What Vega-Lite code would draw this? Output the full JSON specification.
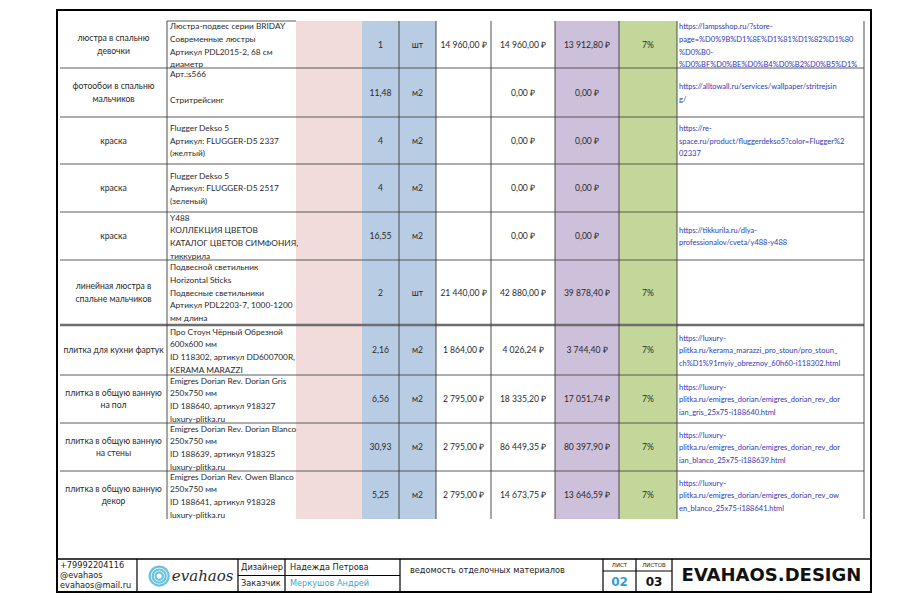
{
  "$schema": "https://vega.github.io/schema/vega-lite/v6.json",
  "width": 900,
  "height": 600,
  "padding": 0,
  "autosize": {"type": "none"},
  "background": "white",
  "config": {
    "view": {"stroke": null},
    "locale": {"number": {"decimal": ",", "thousands": "\u00a0", "grouping": [3], "currency": ["", "\u00a0₽"]}},
    "text": {"font": "Lato", "fontSize": 8.6, "lineBreak": "\n", "lineHeight": 12.7, "baseline": "middle", "align": "center", "color": "#2a2a2a"}
  },
  "datasets": {
    "items": [
      {"row": 1, "name": "люстра в спальню\nдевочки", "desc": "Люстра-подвес серии BRIDAY\nСовременные люстры\nАртикул PDL2015-2, 68 см\nдиаметр", "qty": 1, "unit": "шт", "price": 14960, "total": 14960, "disc": 13912.8, "pct": 0.07, "link": "https://lampsshop.ru/?store-\npage=%D0%9B%D1%8E%D1%81%D1%82%D1%80\n%D0%B0-\n%D0%BF%D0%BE%D0%B4%D0%B2%D0%B5%D1%"},
      {"row": 2, "name": "фотообои в спальню\nмальчиков", "desc": "Арт.:s566\n\u2800\nСтритрейсинг\n\u2800", "qty": 11.48, "unit": "м2", "price": null, "total": 0, "disc": 0, "pct": null, "link": "https://alltowall.ru/services/wallpaper/stritrejsin\ng/"},
      {"row": 3, "name": "краска", "desc": "Flugger Dekso 5\nАртикул: FLUGGER-D5 2337\n(желтый)", "qty": 4, "unit": "м2", "price": null, "total": 0, "disc": 0, "pct": null, "link": "https://re-\nspace.ru/product/fluggerdekso5?color=Flugger%2\n02337"},
      {"row": 4, "name": "краска", "desc": "Flugger Dekso 5\nАртикул: FLUGGER-D5 2517\n(зеленый)", "qty": 4, "unit": "м2", "price": null, "total": 0, "disc": 0, "pct": null, "link": ""},
      {"row": 5, "name": "краска", "desc": "Y488\nКОЛЛЕКЦИЯ ЦВЕТОВ\nКАТАЛОГ ЦВЕТОВ СИМФОНИЯ,\nтиккурила", "qty": 16.55, "unit": "м2", "price": null, "total": 0, "disc": 0, "pct": null, "link": "https://tikkurila.ru/dlya-\nprofessionalov/cveta/y488-y488"},
      {"row": 6, "name": "линейная люстра в\nспальне мальчиков", "desc": "Подвесной светильник\nHorizontal Sticks\nПодвесные светильники\nАртикул PDL2203-7, 1000-1200\nмм длина", "qty": 2, "unit": "шт", "price": 21440, "total": 42880, "disc": 39878.4, "pct": 0.07, "link": ""},
      {"row": 7, "name": "плитка для кухни фартук", "desc": "Про Стоун Чёрный Обрезной\n600x600 мм\nID 118302, артикул DD600700R,\nKERAMA MARAZZI", "qty": 2.16, "unit": "м2", "price": 1864, "total": 4026.24, "disc": 3744.4, "pct": 0.07, "link": "https://luxury-\nplitka.ru/kerama_marazzi_pro_stoun/pro_stoun_\nch%D1%91rnyiy_obreznoy_60h60-i118302.html"},
      {"row": 8, "name": "плитка в общую ванную\nна пол", "desc": "Emigres Dorian Rev. Dorian Gris\n250x750 мм\nID 188640, артикул 918327\nluxury-plitka.ru", "qty": 6.56, "unit": "м2", "price": 2795, "total": 18335.2, "disc": 17051.74, "pct": 0.07, "link": "https://luxury-\nplitka.ru/emigres_dorian/emigres_dorian_rev_dor\nian_gris_25x75-i188640.html"},
      {"row": 9, "name": "плитка в общую ванную\nна стены", "desc": "Emigres Dorian Rev. Dorian Blanco\n250x750 мм\nID 188639, артикул 918325\nluxury-plitka.ru", "qty": 30.93, "unit": "м2", "price": 2795, "total": 86449.35, "disc": 80397.9, "pct": 0.07, "link": "https://luxury-\nplitka.ru/emigres_dorian/emigres_dorian_rev_dor\nian_blanco_25x75-i188639.html"},
      {"row": 10, "name": "плитка в общую ванную\nдекор", "desc": "Emigres Dorian Rev. Owen Blanco\n250x750 мм\nID 188641, артикул 918328\nluxury-plitka.ru", "qty": 5.25, "unit": "м2", "price": 2795, "total": 14673.75, "disc": 13646.59, "pct": 0.07, "link": "https://luxury-\nplitka.ru/emigres_dorian/emigres_dorian_rev_ow\nen_blanco_25x75-i188641.html"}
    ]
  },
  "layer": [
    {
      "layer": [
        {
          "data": {"values": [
            {"c0": 2.5, "c1": 3.5, "k": "pink"},
            {"c0": 3.5, "c1": 5.5, "k": "blue"},
            {"c0": 7.5, "c1": 8.5, "k": "purple"},
            {"c0": 8.5, "c1": 9.5, "k": "green"}
          ]},
          "mark": {"type": "rect"},
          "encoding": {
            "x": {"field": "c0", "type": "quantitative", "axis": null, "scale": {"domain": [0.5, 1.5, 2.5, 3.5, 4.5, 5.5, 6.5, 7.5, 8.5, 9.5, 10.5], "range": [60, 167, 296, 362, 399, 436, 491, 555, 619, 677, 864], "zero": false, "nice": false}},
            "x2": {"field": "c1"},
            "y": {"datum": 0.5, "type": "quantitative", "axis": null, "scale": {"domain": [0.5, 1.5, 2.5, 3.5, 4.5, 5.5, 6.5, 7.5, 8.5, 9.5, 10.5], "range": [21, 68, 117, 164, 212, 260, 325, 375, 423, 471, 519], "zero": false, "nice": false}},
            "y2": {"datum": 10.5},
            "color": {"field": "k", "type": "nominal", "legend": null, "scale": {"domain": ["pink", "blue", "purple", "green"], "range": ["#f2dcdb", "#b8cce4", "#ccc0da", "#c4d79b"]}}
          }
        },
        {
          "data": {"values": [{"r": 1.5}, {"r": 2.5}, {"r": 3.5}, {"r": 4.5}, {"r": 5.5}, {"r": 7.5}, {"r": 8.5}, {"r": 9.5}]},
          "mark": {"type": "rule", "color": "#4a4a4a", "strokeWidth": 0.9},
          "encoding": {
            "y": {"field": "r", "type": "quantitative"},
            "x": {"datum": 0.5, "type": "quantitative"},
            "x2": {"datum": 10.5}
          }
        },
        {
          "data": {"values": [{"r": 6.5}]},
          "mark": {"type": "rule", "color": "#6e6e6e", "strokeWidth": 2.6},
          "encoding": {
            "y": {"field": "r", "type": "quantitative"},
            "x": {"datum": 0.5, "type": "quantitative"},
            "x2": {"datum": 10.5}
          }
        },
        {
          "data": {"values": [{"r": 0.5}]},
          "mark": {"type": "rule", "color": "#4a4a4a", "strokeWidth": 0.9},
          "encoding": {
            "y": {"field": "r", "type": "quantitative"},
            "x": {"datum": 1.5, "type": "quantitative"},
            "x2": {"datum": 2.5}
          }
        },
        {
          "data": {"values": [{"c": 1.5}, {"c": 4.5}, {"c": 5.5}, {"c": 6.5}, {"c": 7.5}, {"c": 8.5}, {"c": 9.5}, {"c": 10.5}]},
          "mark": {"type": "rule", "color": "#3a3a3a", "strokeWidth": 0.9},
          "encoding": {
            "x": {"field": "c", "type": "quantitative"},
            "y": {"datum": 0.5, "type": "quantitative"},
            "y2": {"datum": 10.5}
          }
        },
        {
          "data": {"name": "items"},
          "transform": [{"filter": "length(split(datum.name, '\\n')) == 1"}],
          "mark": {"type": "text"},
          "encoding": {"x": {"datum": 1, "type": "quantitative"}, "y": {"field": "row", "type": "quantitative"}, "text": {"field": "name"}}
        },
        {
          "data": {"name": "items"},
          "transform": [{"filter": "length(split(datum.name, '\\n')) == 2"}],
          "mark": {"type": "text", "dy": -6.35},
          "encoding": {"x": {"datum": 1, "type": "quantitative"}, "y": {"field": "row", "type": "quantitative"}, "text": {"field": "name"}}
        },
        {
          "data": {"name": "items"},
          "transform": [{"filter": "length(split(datum.desc, '\\n')) == 3"}],
          "mark": {"type": "text", "align": "left", "dx": 3, "dy": -11.5, "fontSize": 8.3},
          "encoding": {"x": {"datum": 1.5, "type": "quantitative"}, "y": {"field": "row", "type": "quantitative"}, "text": {"field": "desc"}}
        },
        {
          "data": {"name": "items"},
          "transform": [{"filter": "length(split(datum.desc, '\\n')) == 4"}],
          "mark": {"type": "text", "align": "left", "dx": 3, "dy": -17.3, "fontSize": 8.3},
          "encoding": {"x": {"datum": 1.5, "type": "quantitative"}, "y": {"field": "row", "type": "quantitative"}, "text": {"field": "desc"}}
        },
        {
          "data": {"name": "items"},
          "transform": [{"filter": "length(split(datum.desc, '\\n')) == 5"}],
          "mark": {"type": "text", "align": "left", "dx": 3, "dy": -24.2, "fontSize": 8.3},
          "encoding": {"x": {"datum": 1.5, "type": "quantitative"}, "y": {"field": "row", "type": "quantitative"}, "text": {"field": "desc"}}
        },
        {
          "data": {"name": "items"},
          "mark": {"type": "text"},
          "encoding": {"x": {"datum": 4, "type": "quantitative"}, "y": {"field": "row", "type": "quantitative"}, "text": {"field": "qty", "type": "quantitative", "format": "~g"}}
        },
        {
          "data": {"name": "items"},
          "mark": {"type": "text"},
          "encoding": {"x": {"datum": 5, "type": "quantitative"}, "y": {"field": "row", "type": "quantitative"}, "text": {"field": "unit"}}
        },
        {
          "data": {"name": "items"},
          "transform": [{"filter": "isValid(datum.price)"}],
          "mark": {"type": "text"},
          "encoding": {"x": {"datum": 6, "type": "quantitative"}, "y": {"field": "row", "type": "quantitative"}, "text": {"field": "price", "type": "quantitative", "format": "$,.2f"}}
        },
        {
          "data": {"name": "items"},
          "mark": {"type": "text"},
          "encoding": {"x": {"datum": 7, "type": "quantitative"}, "y": {"field": "row", "type": "quantitative"}, "text": {"field": "total", "type": "quantitative", "format": "$,.2f"}}
        },
        {
          "data": {"name": "items"},
          "mark": {"type": "text"},
          "encoding": {"x": {"datum": 8, "type": "quantitative"}, "y": {"field": "row", "type": "quantitative"}, "text": {"field": "disc", "type": "quantitative", "format": "$,.2f"}}
        },
        {
          "data": {"name": "items"},
          "transform": [{"filter": "isValid(datum.pct)"}],
          "mark": {"type": "text"},
          "encoding": {"x": {"datum": 9, "type": "quantitative"}, "y": {"field": "row", "type": "quantitative"}, "text": {"field": "pct", "type": "quantitative", "format": ".0%"}}
        },
        {
          "data": {"name": "items"},
          "transform": [{"filter": "length(split(datum.link, '\\n')) == 2"}],
          "mark": {"type": "text", "align": "left", "dx": 2, "dy": -5.5, "fontSize": 7.5, "color": "#3238b8"},
          "encoding": {"x": {"datum": 9.5, "type": "quantitative"}, "y": {"field": "row", "type": "quantitative"}, "text": {"field": "link"}}
        },
        {
          "data": {"name": "items"},
          "transform": [{"filter": "length(split(datum.link, '\\n')) == 3"}],
          "mark": {"type": "text", "align": "left", "dx": 2, "dy": -11.5, "fontSize": 7.5, "color": "#3238b8"},
          "encoding": {"x": {"datum": 9.5, "type": "quantitative"}, "y": {"field": "row", "type": "quantitative"}, "text": {"field": "link"}}
        },
        {
          "data": {"name": "items"},
          "transform": [{"filter": "length(split(datum.link, '\\n')) == 4"}],
          "mark": {"type": "text", "align": "left", "dx": 2, "dy": -17.3, "fontSize": 7.5, "color": "#3238b8"},
          "encoding": {"x": {"datum": 9.5, "type": "quantitative"}, "y": {"field": "row", "type": "quantitative"}, "text": {"field": "link"}}
        }
      ]
    },
    {
      "layer": [
        {
          "data": {"values": [{"part": "frame"}]},
          "mark": {"type": "rect", "fill": null, "stroke": "#000000", "strokeWidth": 2},
          "encoding": {
            "x": {"datum": 0, "type": "quantitative", "axis": null, "scale": {"domain": [0, 1, 2, 3, 4, 5, 6, 7, 8], "range": [57, 137, 238, 285, 400, 603, 636, 672, 871], "zero": false, "nice": false}},
            "x2": {"datum": 8},
            "y": {"datum": 0, "type": "quantitative", "axis": null, "scale": {"domain": [0, 1, 2, 3, 4, 5, 6, 7, 8], "range": [10, 559, 565, 567.5, 571, 575.5, 581.5, 584, 592], "zero": false, "nice": false}},
            "y2": {"datum": 8}
          }
        },
        {
          "data": {"values": [{"r": 1}]},
          "mark": {"type": "rule", "color": "#000000", "strokeWidth": 1.5},
          "encoding": {"y": {"field": "r", "type": "quantitative"}, "x": {"datum": 0, "type": "quantitative"}, "x2": {"datum": 8}}
        },
        {
          "data": {"values": [{"c": 1}, {"c": 2}, {"c": 3}, {"c": 4}, {"c": 5}, {"c": 6}, {"c": 7}]},
          "mark": {"type": "rule", "color": "#000000", "strokeWidth": 1.2},
          "encoding": {"x": {"field": "c", "type": "quantitative"}, "y": {"datum": 1, "type": "quantitative"}, "y2": {"datum": 8}}
        },
        {
          "data": {"values": [{"r": 5}]},
          "mark": {"type": "rule", "color": "#000000", "strokeWidth": 1},
          "encoding": {"y": {"field": "r", "type": "quantitative"}, "x": {"datum": 2, "type": "quantitative"}, "x2": {"datum": 4}}
        },
        {
          "data": {"values": [{"r": 4}]},
          "mark": {"type": "rule", "color": "#000000", "strokeWidth": 1},
          "encoding": {"y": {"field": "r", "type": "quantitative"}, "x": {"datum": 5, "type": "quantitative"}, "x2": {"datum": 7}}
        },
        {
          "data": {"values": [{"t": "+79992204116\n@evahaos\nevahaos@mail.ru"}]},
          "mark": {"type": "text", "font": "DejaVu Sans", "fontSize": 8.2, "lineHeight": 10, "dy": -10, "align": "left", "dx": 3, "color": "#222222"},
          "encoding": {"x": {"datum": 0, "type": "quantitative"}, "y": {"datum": 5, "type": "quantitative"}, "text": {"field": "t"}}
        },
        {
          "data": {"values": [{"s": 420}, {"s": 200}, {"s": 60}]},
          "mark": {"type": "point", "shape": "circle", "filled": false, "stroke": "#4fb8dc", "strokeWidth": 2.2, "opacity": 0.85},
          "encoding": {"x": {"datum": 1.22, "type": "quantitative"}, "y": {"datum": 5.1, "type": "quantitative"}, "size": {"field": "s", "type": "quantitative", "legend": null, "scale": {"type": "identity"}}}
        },
        {
          "data": {"values": [{"t": "evahaos"}]},
          "mark": {"type": "text", "font": "DejaVu Serif", "fontStyle": "italic", "fontSize": 15, "color": "#2a2a2a"},
          "encoding": {"x": {"datum": 1.65, "type": "quantitative"}, "y": {"datum": 5, "type": "quantitative"}, "text": {"field": "t"}}
        },
        {
          "data": {"values": [{"t": "Дизайнер", "r": 3}, {"t": "Заказчик", "r": 7}]},
          "mark": {"type": "text", "font": "DejaVu Sans", "fontSize": 8.2, "align": "left", "dx": 3, "color": "#222222"},
          "encoding": {"x": {"datum": 2, "type": "quantitative"}, "y": {"field": "r", "type": "quantitative"}, "text": {"field": "t"}}
        },
        {
          "data": {"values": [{"t": "Надежда Петрова", "r": 3}]},
          "mark": {"type": "text", "font": "DejaVu Sans", "fontSize": 8.2, "align": "left", "dx": 5, "color": "#222222"},
          "encoding": {"x": {"datum": 3, "type": "quantitative"}, "y": {"field": "r", "type": "quantitative"}, "text": {"field": "t"}}
        },
        {
          "data": {"values": [{"t": "Меркушов Андрей", "r": 7}]},
          "mark": {"type": "text", "font": "DejaVu Sans", "fontSize": 8.2, "align": "left", "dx": 5, "color": "#3fa6cf"},
          "encoding": {"x": {"datum": 3, "type": "quantitative"}, "y": {"field": "r", "type": "quantitative"}, "text": {"field": "t"}}
        },
        {
          "data": {"values": [{"t": "ведомость отделочных материалов", "r": 4}]},
          "mark": {"type": "text", "font": "DejaVu Sans", "fontSize": 8.2, "align": "left", "dx": 10, "color": "#222222"},
          "encoding": {"x": {"datum": 4, "type": "quantitative"}, "y": {"field": "r", "type": "quantitative"}, "text": {"field": "t"}}
        },
        {
          "data": {"values": [{"t": "ЛИСТ", "c": 5.5}, {"t": "ЛИСТОВ", "c": 6.5}]},
          "mark": {"type": "text", "font": "DejaVu Sans", "fontSize": 5.5, "color": "#222222"},
          "encoding": {"x": {"field": "c", "type": "quantitative"}, "y": {"datum": 2, "type": "quantitative"}, "text": {"field": "t"}}
        },
        {
          "data": {"values": [{"t": "02", "c": 5.5, "k": "cur"}, {"t": "03", "c": 6.5, "k": "all"}]},
          "mark": {"type": "text", "font": "DejaVu Sans", "fontSize": 12, "fontWeight": "bold"},
          "encoding": {
            "x": {"field": "c", "type": "quantitative"},
            "y": {"datum": 6, "type": "quantitative"},
            "text": {"field": "t"},
            "color": {"field": "k", "type": "nominal", "legend": null, "scale": {"domain": ["cur", "all"], "range": ["#2f9fcc", "#111111"]}}
          }
        },
        {
          "data": {"values": [{"t": "EVAHAOS.DESIGN"}]},
          "mark": {"type": "text", "font": "DejaVu Sans", "fontSize": 18, "fontWeight": "bold", "color": "#111111"},
          "encoding": {"x": {"datum": 7.5, "type": "quantitative"}, "y": {"datum": 5, "type": "quantitative"}, "text": {"field": "t"}}
        }
      ]
    }
  ],
  "resolve": {"scale": {"x": "independent", "y": "independent", "color": "independent", "size": "independent"}}
}
